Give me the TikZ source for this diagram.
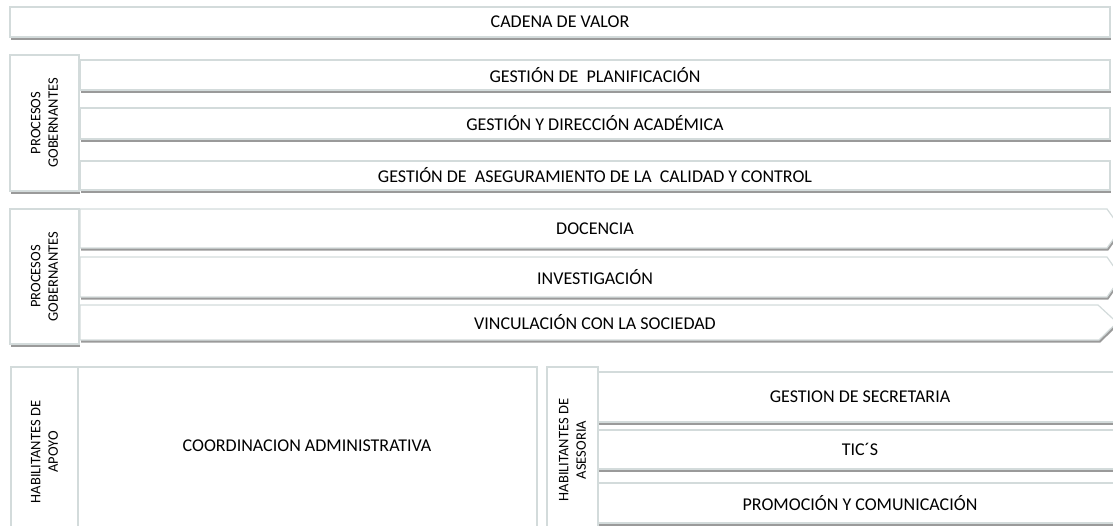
\documentclass[tikz,border=0pt]{standalone}
\usepackage{fontspec}
\setmainfont{Carlito}
\usetikzlibrary{shadows}
\definecolor{edge}{HTML}{D3DBDB}
\definecolor{shade}{HTML}{9A9A9A}
\tikzset{
  base/.style={draw=edge, line width=1.2pt, fill=white, inner sep=0pt,
    drop shadow={shadow xshift=1.2pt, shadow yshift=-2.6pt, fill=shade, opacity=1},
    font=\fontsize{18}{20}\selectfont},
  rowbox/.style={base, rectangle},
  lbl/.style={rotate=90, align=center, inner sep=0pt, font=\fontsize{14.5}{17.5}\selectfont},
  txt/.style={inner sep=0pt, font=\fontsize{18}{20}\selectfont}
}
\begin{document}
\begin{tikzpicture}[x=1pt,y=-1pt]
\useasboundingbox (0,0) rectangle (1113,525);
% top
\node[rowbox, minimum width=1100, minimum height=30] (cv) at (560,22) {CADENA DE VALOR};
% group 2
\node[rowbox, minimum width=69, minimum height=136] (g2) at (44.5,123) {};
\node[lbl] (g2t) at (g2.center) {PROCESOS\\GOBERNANTES};
\node[rowbox, minimum width=1030, minimum height=30] (p1) at (595,75) {GESTIÓN DE\ \ PLANIFICACIÓN};
\node[rowbox, minimum width=1030, minimum height=31] (p2) at (595,123.5) {GESTIÓN Y DIRECCIÓN ACADÉMICA};
\node[rowbox, minimum width=1030, minimum height=29] (p3) at (595,175.5) {GESTIÓN DE\ \ ASEGURAMIENTO DE LA\ \ CALIDAD Y CONTROL};
% group 3
\node[rowbox, minimum width=69, minimum height=135] (g3) at (44.5,276.5) {};
\node[lbl] (g3t) at (g3.center) {PROCESOS\\GOBERNANTES};
\draw[base] (80,209) -- (1107,209) -- (1121,228.5) -- (1107,248) -- (80,248) -- cycle;
\node[txt] (c1t) at (595,228.5) {DOCENCIA};
\draw[base] (80,257) -- (1107,257) -- (1121,277) -- (1107,297) -- (80,297) -- cycle;
\node[txt] (c2t) at (595,277) {INVESTIGACIÓN};
\draw[base] (80,305) -- (1098,305) -- (1117,322.5) -- (1099,340) -- (80,340) -- cycle;
\node[txt] (c3t) at (595,322.5) {VINCULACIÓN CON LA SOCIEDAD};
% bottom left
\node[rowbox, minimum width=67, minimum height=178] (ha) at (44.5,456) {};
\node[lbl] (hat) at (44.5,452) {HABILITANTES DE\\APOYO};
\node[rowbox, minimum width=459, minimum height=178] (ca) at (307.5,456) {};
\node[txt] (cat) at (307,446) {COORDINACION ADMINISTRATIVA};
% bottom right
\node[rowbox, minimum width=51, minimum height=178] (hs) at (572.5,456) {};
\node[lbl] (hst) at (572.5,450) {HABILITANTES DE\\ASESORIA};
\node[rowbox, minimum width=524, minimum height=50] (s1) at (860,397) {GESTION DE SECRETARIA};
\node[rowbox, minimum width=524, minimum height=39] (s2) at (860,449.5) {TIC´S};
\node[rowbox, minimum width=524, minimum height=40] (s3) at (860,503) {PROMOCIÓN Y COMUNICACIÓN};
\end{tikzpicture}
\end{document}
